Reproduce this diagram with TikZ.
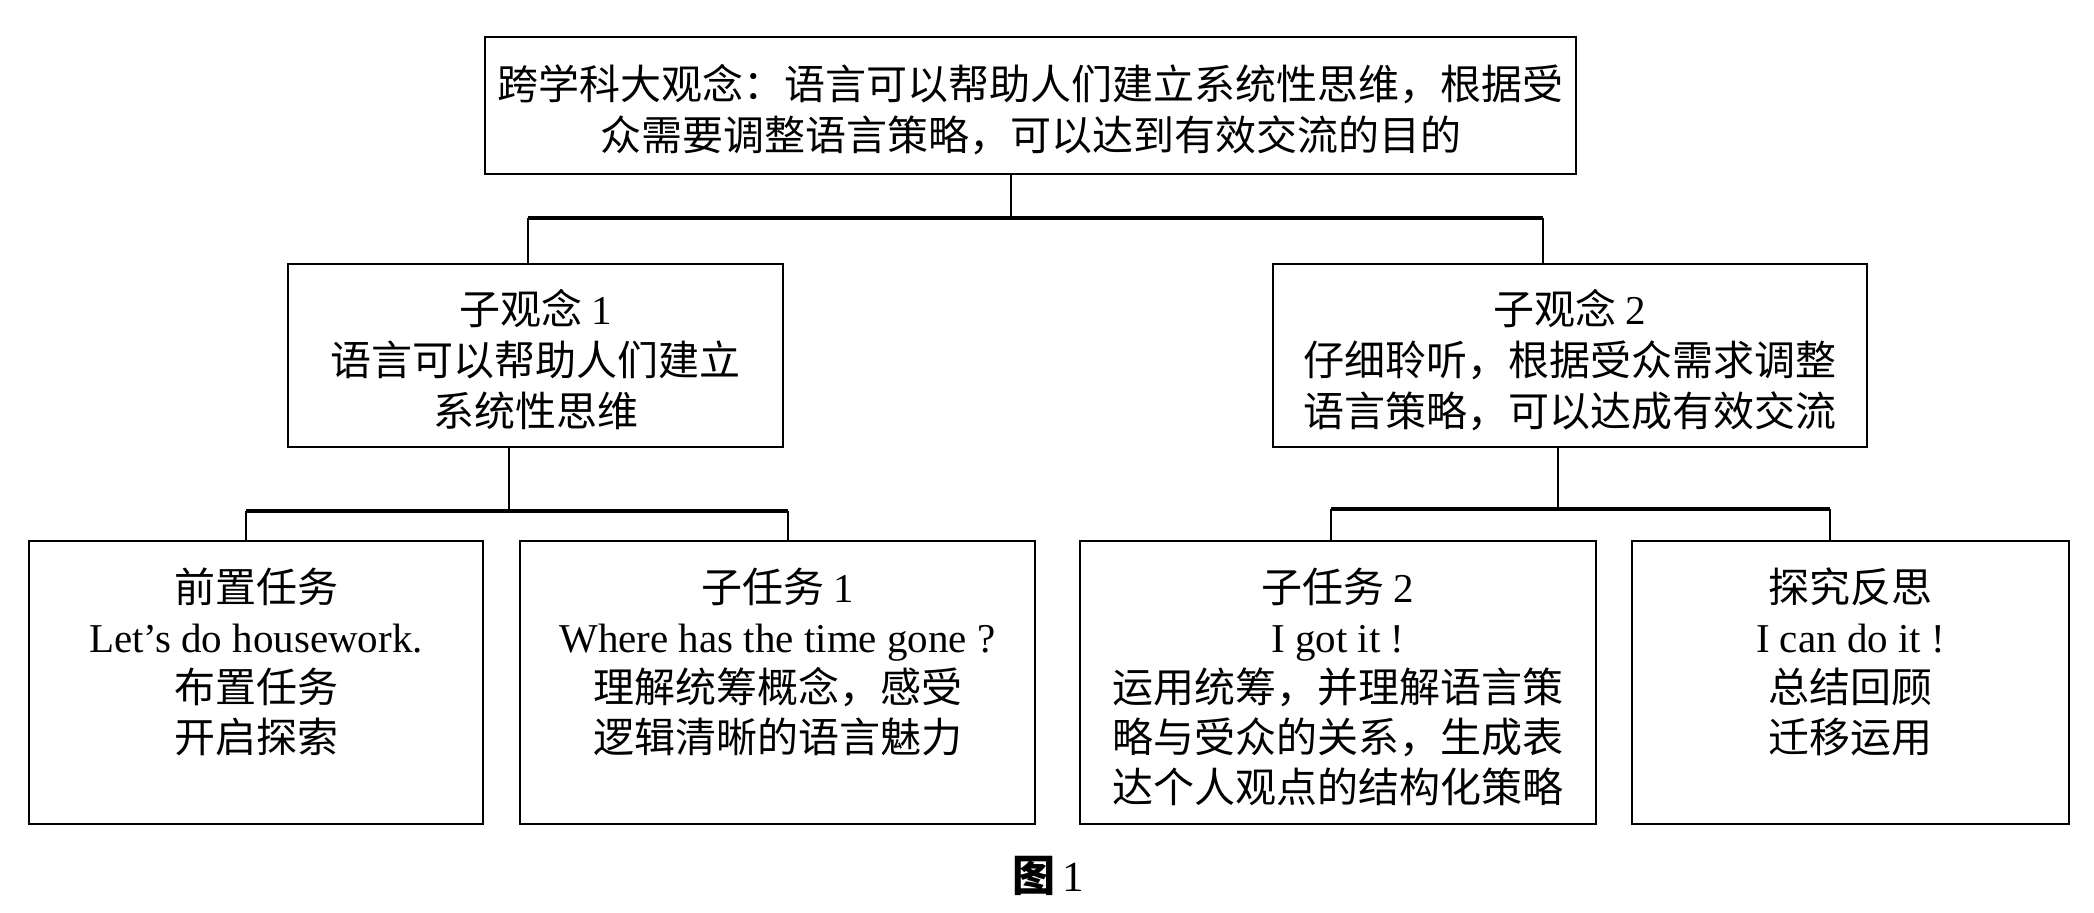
\documentclass[tikz,border=0pt]{standalone}
\usepackage{fontspec}
\setmainfont{Liberation Serif}
\newfontfamily\cjk{Noto Sans CJK SC}
\newcommand\topstrut{\rule{0pt}{44pt}}
\begin{document}
\begin{tikzpicture}[x=1pt,y=-1pt,
  box/.style={draw, line width=2.5pt, inner sep=0pt, align=center, font={\cjk\fontsize{41}{51}\selectfont}},
  txt/.style={inner sep=0pt, align=center, anchor=north, font={\cjk\fontsize{41}{50}\selectfont}},
  vline/.style={line width=2pt},
  hline/.style={line width=4pt}]
\useasboundingbox (0,0) rectangle (2094,913);
% boxes
\node[box, minimum width=1091pt, minimum height=137pt] (top) at (1030.5,105.5)
  {\topstrut 跨学科大观念：语言可以帮助人们建立系统性思维，根据受\\众需要调整语言策略，可以达到有效交流的目的};
\node[box, minimum width=495pt, minimum height=183pt] (sub1) at (535.5,355.5)
  {\topstrut 子观念 {\rmfamily 1}\\语言可以帮助人们建立\\系统性思维};
\node[box, minimum width=594pt, minimum height=183pt] (sub2) at (1570,355.5)
  {\topstrut 子观念 {\rmfamily 2}\\仔细聆听，根据受众需求调整\\语言策略，可以达成有效交流};
\node[box, minimum width=454pt, minimum height=283pt] (b1) at (256,682.5) {};
\node[box, minimum width=515pt, minimum height=283pt] (b2) at (777.5,682.5) {};
\node[box, minimum width=516pt, minimum height=283pt] (b3) at (1338,682.5) {};
\node[box, minimum width=437pt, minimum height=283pt] (b4) at (1850.5,682.5) {};
% texts in bottom boxes
\node[txt] (t1) at ([yshift=-28pt]b1.north) {前置任务\\{\rmfamily Let’s do housework.}\\布置任务\\开启探索};
\node[txt] (t2) at ([yshift=-28pt]b2.north) {子任务 {\rmfamily 1}\\{\rmfamily Where has the time gone ?}\\理解统筹概念，感受\\逻辑清晰的语言魅力};
\node[txt] (t3) at ([yshift=-28pt]b3.north) {子任务 {\rmfamily 2}\\{\rmfamily I got it !}\\运用统筹，并理解语言策\\略与受众的关系，生成表\\达个人观点的结构化策略};
\node[txt] (t4) at ([yshift=-28pt]b4.north) {探究反思\\{\rmfamily I can do it !}\\总结回顾\\迁移运用};
% caption
\node[inner sep=0pt, font={\fontsize{43}{50}\selectfont}] (cap) at (1048,876) {{\cjk\bfseries 图}\,1};
% connectors: top level
\coordinate (j0) at (1011,218);
\coordinate (j0l) at (528,218);
\coordinate (j0r) at (1543,218);
\draw[vline] (top.south -| j0) -- (j0);
\draw[hline] (j0l) -- (j0r);
\draw[vline] (j0l) -- (j0l |- sub1.north);
\draw[vline] (j0r) -- (j0r |- sub2.north);
% connectors: sub1
\coordinate (j1) at (509,511);
\coordinate (j1l) at (246,511);
\coordinate (j1r) at (788,511);
\draw[vline] (sub1.south -| j1) -- (j1);
\draw[hline] (j1l) -- (j1r);
\draw[vline] (j1l) -- (j1l |- b1.north);
\draw[vline] (j1r) -- (j1r |- b2.north);
% connectors: sub2
\coordinate (j2) at (1558,509);
\coordinate (j2l) at (1331,509);
\coordinate (j2r) at (1830,509);
\draw[vline] (sub2.south -| j2) -- (j2);
\draw[hline] (j2l) -- (j2r);
\draw[vline] (j2l) -- (j2l |- b3.north);
\draw[vline] (j2r) -- (j2r |- b4.north);
\end{tikzpicture}
\end{document}
